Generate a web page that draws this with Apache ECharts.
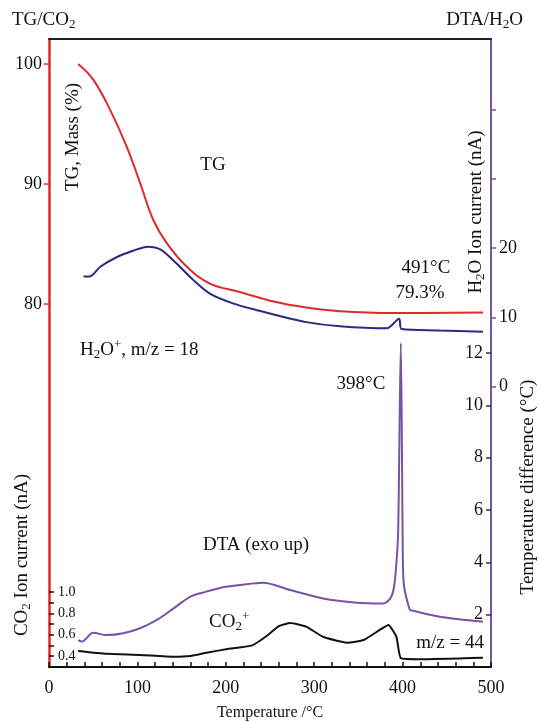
<!DOCTYPE html>
<html>
<head>
<meta charset="utf-8">
<script src="https://cdn.jsdelivr.net/npm/echarts@6/dist/echarts.min.js"></script>
<style>
  html, body { margin: 0; padding: 0; background: #fff; }
  #chart { width: 539px; height: 722px; }
</style>
</head>
<body>
<div id="chart"></div>
<script>
// data (temperature in °C)
const tgT = [33, 50, 69, 88, 103, 118, 133, 156, 182, 216, 254, 291, 329, 389, 491];
const tgV = [100, 98.7, 96.2, 93.1, 90.1, 87.0, 85.1, 83.1, 81.7, 81.0, 80.2, 79.7, 79.4, 79.25, 79.3];

const h2oT = [39, 46, 58, 77, 95, 112, 126, 144, 163, 182, 208, 239, 254, 291, 329, 382, 396, 399, 442, 491];
const h2oV = [15.9, 15.9, 17.3, 18.7, 19.6, 20.2, 19.8, 17.8, 15.4, 13.4, 12.0, 10.9, 10.4, 9.3, 8.7, 8.4, 9.8, 8.3, 8.1, 7.9];

const dtaT = [33, 37, 50, 65, 84, 103, 122, 141, 160, 178, 197, 216, 242, 273, 310, 348, 378, 386, 390, 393, 395, 398, 400, 401, 408, 412, 442, 491];
const dtaV = [1.03, 0.97, 1.31, 1.22, 1.29, 1.48, 1.80, 2.24, 2.69, 2.88, 3.05, 3.13, 3.22, 2.94, 2.62, 2.46, 2.43, 2.62, 3.0, 3.97, 5.2, 12.37, 5.2, 3.3, 2.2, 2.15, 1.92, 1.73];

const co2T = [33, 65, 103, 141, 160, 178, 205, 215, 230, 245, 260, 273, 291, 310, 337, 356, 374, 384, 393, 398, 420, 491];
const co2V = [0.447, 0.42, 0.41, 0.393, 0.40, 0.43, 0.47, 0.48, 0.50, 0.58, 0.68, 0.71, 0.675, 0.58, 0.525, 0.55, 0.644, 0.69, 0.58, 0.38, 0.37, 0.384];

// tick labels
const xLabels = [0, 100, 200, 300, 400, 500];
const xTicks = [0, 20, 40, 60, 80, 100, 120, 140, 160, 180, 200, 220, 240, 260, 280, 300, 320, 340, 360, 380, 400, 420, 440, 460, 480, 500];
const tgLabels = [80, 90, 100];
const co2Labels = [0.4, 0.6, 0.8, 1.0];
const co2Ticks = [0.4, 0.5, 0.6, 0.7, 0.8, 0.9, 1.0];
const h2oLabels = [0, 10, 20];
const h2oTicks = [0, 10, 20, 30, 40];
const dtaLabels = [2, 4, 6, 8, 10, 12];

const FONT = 'Liberation Serif';
const RED = '#de2a2b';
const NAVY = '#2b2a7c';
const PURPLE = '#7a52a4';
const BLACK = '#111';
const FS = 19;

const pairs = (xs, ys) => xs.map((x, i) => [x, ys[i]]);

const rich = {
  n: { fontFamily: FONT, fontSize: FS, color: BLACK },
  sub: { fontFamily: FONT, fontSize: 13, color: BLACK, padding: [10, 0, 0, 0] },
  sup: { fontFamily: FONT, fontSize: 13, color: BLACK, padding: [0, 0, 10, 0] }
};

const label = (x, y, text, align, rotation) => ({
  type: 'text',
  x: x,
  y: y,
  rotation: rotation || 0,
  style: {
    text: text,
    rich: rich,
    align: align || 'center',
    verticalAlign: 'middle',
    fontFamily: FONT,
    fontSize: FS,
    fill: BLACK
  }
});

const chart = echarts.init(document.getElementById('chart'));

const yBase = (pos, min, max) => ({
  type: 'value',
  position: pos,
  min: min,
  max: max,
  splitLine: { show: false }
});

const option = {
  animation: false,
  backgroundColor: '#fff',
  grid: { left: 49, right: 48, top: 39, bottom: 55, outerBoundsMode: 'none', containLabel: false },
  xAxis: [
    {
      type: 'value',
      min: 0,
      max: 500,
      splitLine: { show: false },
      axisLine: { onZero: false, lineStyle: { color: BLACK, width: 2 } },
      axisTick: { inside: true, length: 5, lineStyle: { color: BLACK, width: 1.5 }, customValues: xTicks },
      axisLabel: { customValues: xLabels, margin: 12, fontFamily: FONT, fontSize: 18, color: BLACK },
      name: 'Temperature /°C',
      nameLocation: 'middle',
      nameGap: 38,
      nameTextStyle: { fontFamily: FONT, fontSize: 16, color: BLACK }
    },
    {
      type: 'value',
      position: 'top',
      min: 0,
      max: 500,
      splitLine: { show: false },
      axisLine: { onZero: false, lineStyle: { color: '#222', width: 2 } },
      axisTick: { show: false },
      axisLabel: { show: false }
    }
  ],
  yAxis: [
    // TG, mass %
    Object.assign(yBase('left', 49.75, 102.083), {
      axisLine: { show: true, onZero: false, lineStyle: { color: RED, width: 2.5 } },
      axisTick: { show: true, length: 5, lineStyle: { color: RED, width: 1.5 }, customValues: tgLabels },
      axisLabel: { customValues: tgLabels, margin: 7, fontFamily: FONT, fontSize: 18, color: BLACK }
    }),
    // CO2 ion current
    Object.assign(yBase('left', 0.2969, 6.184), {
      axisLine: { show: false, onZero: false },
      axisTick: { show: true, inside: true, length: 5, lineStyle: { color: BLACK, width: 1.5 }, customValues: co2Ticks },
      axisLabel: {
        customValues: co2Labels, inside: true, margin: 9,
        fontFamily: FONT, fontSize: 14, color: BLACK,
        formatter: v => v.toFixed(1)
      }
    }),
    // H2O ion current
    Object.assign(yBase('right', -40.5, 50.18), {
      axisLine: { show: true, onZero: false, lineStyle: { color: PURPLE, width: 2 } },
      axisTick: { show: true, length: 5, lineStyle: { color: PURPLE, width: 1.5 }, customValues: h2oTicks },
      axisLabel: { customValues: h2oLabels, margin: 8, fontFamily: FONT, fontSize: 18, color: BLACK }
    }),
    // DTA temperature difference
    Object.assign(yBase('right', 0, 24), {
      axisLine: { show: false, onZero: false },
      axisTick: { show: true, inside: true, length: 5, lineStyle: { color: '#333', width: 1.5 }, customValues: dtaLabels },
      axisLabel: { customValues: dtaLabels, inside: true, margin: 8, fontFamily: FONT, fontSize: 18, color: BLACK }
    })
  ],
  series: [
    {
      name: 'TG', type: 'line', yAxisIndex: 0, data: pairs(tgT, tgV),
      showSymbol: false, smooth: 0.4,
      lineStyle: { color: RED, width: 2 }
    },
    {
      name: 'H2O', type: 'line', yAxisIndex: 2, data: pairs(h2oT, h2oV),
      showSymbol: false, smooth: 0.3,
      lineStyle: { color: NAVY, width: 2 }
    },
    {
      name: 'DTA', type: 'line', yAxisIndex: 3, data: pairs(dtaT, dtaV),
      showSymbol: false, smooth: 0.3,
      lineStyle: { color: PURPLE, width: 2 }
    },
    {
      name: 'CO2', type: 'line', yAxisIndex: 1, data: pairs(co2T, co2V),
      showSymbol: false, smooth: 0.15,
      lineStyle: { color: BLACK, width: 2 }
    }
  ],
  graphic: [
    label(12, 20, '{n|TG/CO}{sub|2}', 'left'),
    label(523, 20, '{n|DTA/H}{sub|2}{n|O}', 'right'),
    label(73, 137, 'TG, Mass (%)', 'center', Math.PI / 2),
    label(22, 555, '{n|CO}{sub|2}{n| Ion current (nA)}', 'center', Math.PI / 2),
    label(476, 212, '{n|H}{sub|2}{n|O Ion current (nA)}', 'center', Math.PI / 2),
    label(528, 487, 'Temperature difference (°C)', 'center', Math.PI / 2),
    label(213, 165, 'TG'),
    label(80, 350, '{n|H}{sub|2}{n|O}{sup|+}{n|, m/z = 18}', 'left'),
    label(361, 384, '398°C'),
    label(426, 268, '491°C'),
    label(420, 293, '79.3%'),
    label(256, 545, 'DTA (exo up)'),
    label(209, 622, '{n|CO}{sub|2}{sup|+}', 'left'),
    label(484, 643, 'm/z = 44', 'right')
  ]
};

chart.setOption(option);
</script>
</body>
</html>
